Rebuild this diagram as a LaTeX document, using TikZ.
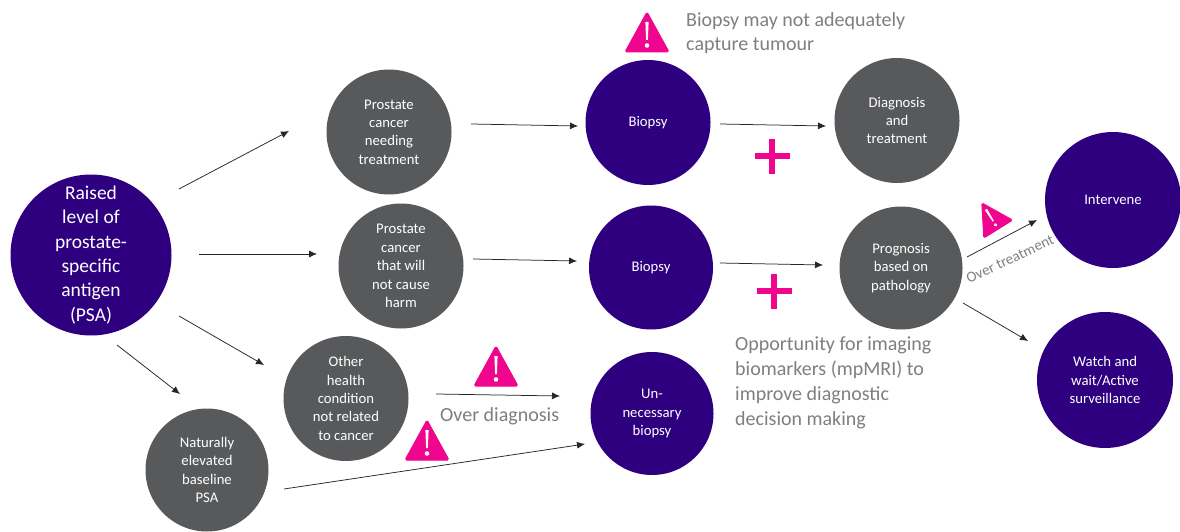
\documentclass[tikz,border=0pt]{standalone}
\usepackage{fontspec}
\usetikzlibrary{arrows.meta}
\setmainfont{Carlito}
\definecolor{navycirc}{HTML}{2E0080}
\definecolor{greycirc}{HTML}{58595B}
\definecolor{warnpink}{HTML}{F0058F}
\definecolor{notegrey}{HTML}{7F7F7F}
\begin{document}
\begin{tikzpicture}[x=1pt,y=-1pt,
  circ/.style={circle,inner sep=0pt,text=white,align=center,font=\fontsize{14.7}{18.4}\selectfont},
  navy/.style={circ,fill=navycirc},
  grey/.style={circ,fill=greycirc},
  link/.style={draw=black!85,line width=0.75pt,-{Latex[length=8pt,width=7pt]}},
  note/.style={text=notegrey,align=left,inner sep=0pt,font=\fontsize{20}{24.8}\selectfont},
  plussign/.style={draw=warnpink,line width=5.5pt},
  warn/.pic={
    \fill[warnpink,draw=warnpink,line width=1pt,line join=round,rounded corners=1.5pt] (-22,20) -- (0,-20) -- (22,20) -- cycle;
    \fill[white] (-1.6,-10) -- (1.6,-10) -- (0.9,8) -- (-0.9,8) -- cycle;
    \fill[white] (0,13.5) circle (2.3);
  }]
\useasboundingbox (0,0) rectangle (1180,532);
\fill[white] (0,0) rectangle (1180,532);

\node[navy,minimum size=161pt,font=\fontsize{19.5}{24.3}\selectfont] (psa) at (91,255) {Raised\\level of\\prostate-\\specific\\antigen\\(PSA)};
\node[grey,minimum size=125pt] (need) at (389,132) {Prostate\\cancer\\needing\\treatment};
\node[grey,minimum size=125pt] (noharm) at (401,266) {Prostate\\cancer\\that will\\not cause\\harm};
\node[grey,minimum size=125pt] (other) at (346,398.5) {Other\\health\\condition\\not related\\to cancer};
\node[grey,minimum size=123pt] (base) at (207,470) {Naturally\\elevated\\baseline\\PSA};
\node[navy,minimum size=125pt] (biopsyA) at (648,122.5) {Biopsy};
\node[navy,minimum size=124pt] (biopsyB) at (651,267.5) {Biopsy};
\node[navy,minimum size=123pt] (biopsyC) at (652,413.5) {Un-\\necessary\\biopsy};
\node[grey,minimum size=125pt] (diag) at (897,120.5) {Diagnosis\\and\\treatment};
\node[grey,minimum size=123pt] (prog) at (901,268) {Prognosis\\based on\\pathology};
\node[navy,minimum size=136pt] (interv) at (1113,200) {Intervene};
\node[navy,minimum size=136pt] (watch) at (1105,380) {Watch and\\wait/Active\\surveillance};

\coordinate (a1) at (179,189); \coordinate (a2) at (289,131);
\coordinate (b1) at (199,254); \coordinate (b2) at (317,254);
\coordinate (c1) at (179,316); \coordinate (c2) at (264,365);
\coordinate (d1) at (117,345); \coordinate (d2) at (180,394);
\coordinate (e1) at (471,124); \coordinate (e2) at (578,126);
\coordinate (f1) at (473,259); \coordinate (f2) at (577,261);
\coordinate (g1) at (436,394); \coordinate (g2) at (560,396);
\coordinate (h1) at (284,489); \coordinate (h2) at (585,444);
\coordinate (i1) at (720,124); \coordinate (i2) at (826,126);
\coordinate (j1) at (720,263); \coordinate (j2) at (823,265);
\coordinate (k1) at (967,257); \coordinate (k2) at (1037,220);
\coordinate (l1) at (963,303); \coordinate (l2) at (1028,341);
\foreach \s/\t in {a1/a2,b1/b2,c1/c2,d1/d2,e1/e2,f1/f2,g1/g2,h1/h2,i1/i2,j1/j2,k1/k2,l1/l2}
  \draw[link] (\s) -- (\t);

\draw[plussign] (772,139) -- (772,174) (755,156) -- (790,156);
\draw[plussign] (774,274) -- (774,309) (757,291) -- (792,291);

\pic at (647,32) {warn};
\pic at (496,366) {warn};
\pic at (427,440) {warn};
\pic[rotate=32,scale=0.77] at (990,216) {warn};

\node[note,anchor=north west] (n1) at (686,12) {Biopsy may not adequately\\capture tumour};
\node[note,anchor=north west] (n2) at (735,337) {Opportunity for imaging\\biomarkers (mpMRI) to\\improve diagnostic\\decision making};
\node[note,anchor=north west] (n3) at (440,407) {Over diagnosis};
\node[text=notegrey,inner sep=0pt,rotate=25,font=\fontsize{15}{16}\selectfont] (n4) at (1010,259) {Over treatment};
\end{tikzpicture}
\end{document}
